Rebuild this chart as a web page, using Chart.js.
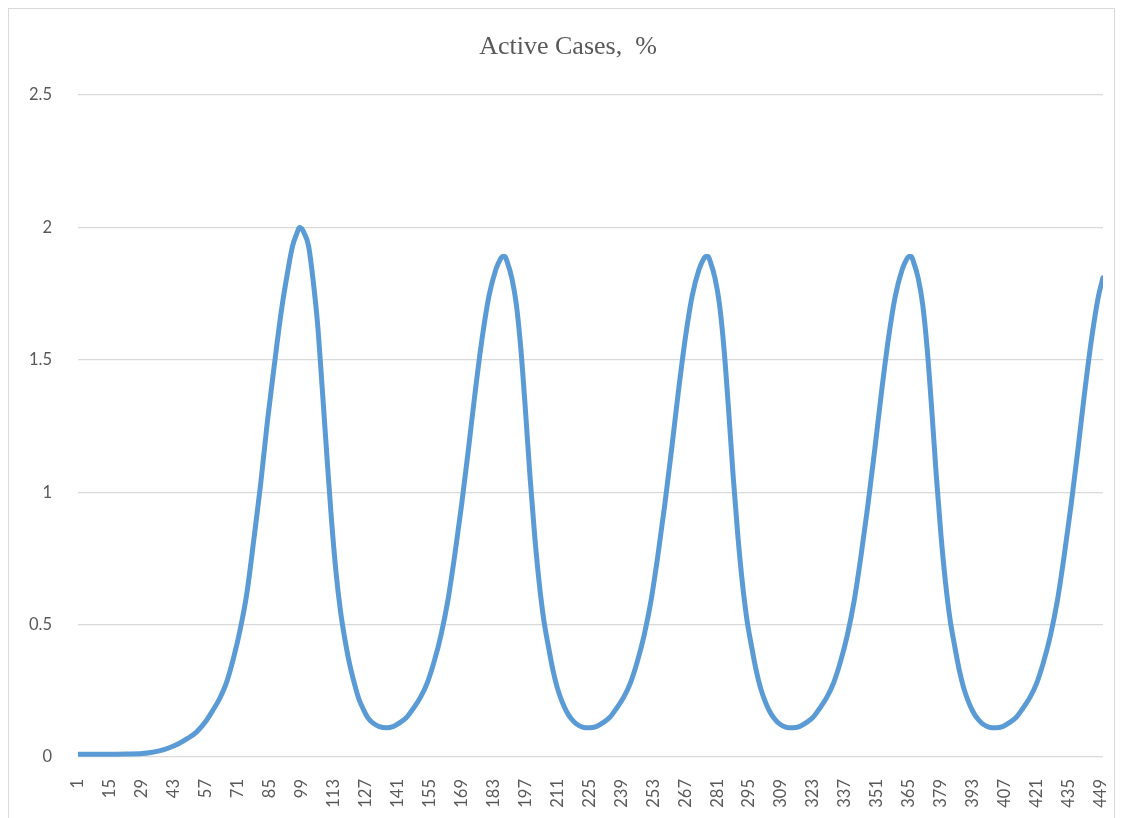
<!DOCTYPE html>
<html>
<head>
<meta charset="utf-8">
<title>Active Cases, %</title>
<script src="https://cdn.jsdelivr.net/npm/chart.js@4.4.1/dist/chart.umd.min.js"></script>
<style>
    html, body { margin: 0; padding: 0; background: #fff; overflow: hidden; }
    #wrap { position: relative; width: 1123px; height: 818px; }
    #frame { position: absolute; left: 8px; top: 8px; width: 1107px; height: 840px; border: 1px solid #d9d9d9; box-sizing: border-box; }
    #activeChart { position: absolute; left: 0; top: 0; }
</style>
</head>
<body>
<div id="wrap">
    <div id="frame"></div>
    <canvas id="activeChart" width="1123" height="818"></canvas>
</div>
<script>
// 経過日数（グラフから読み取った点）
const days = [
    1, 8, 15, 22, 29, 33, 37, 41, 45, 49, 53, 57, 60, 63, 66, 69, 72, 75, 78, 81, 84, 87, 90, 93, 95, 97, 98, 99, 100,
    102, 104, 106, 108, 110, 112, 114, 116, 118, 120, 122, 124, 126, 128, 130, 133, 136,
    139, 142, 145, 148, 151, 154, 157, 160, 163, 166, 169, 172, 175, 178, 181, 184, 186, 187, 188, 189,
    191, 193, 195, 197, 199, 201, 203, 205, 207, 209, 211, 213, 215, 217, 219, 222, 225,
    228, 231, 234, 237, 240, 243, 246, 249, 252, 255, 258, 261, 264, 267, 270, 273, 275, 276, 277, 278,
    280, 282, 284, 286, 288, 290, 292, 294, 296, 298, 300, 302, 304, 306, 308, 311, 314,
    317, 320, 323, 326, 329, 332, 335, 338, 341, 344, 347, 350, 353, 356, 359, 362, 364, 365, 366, 367,
    369, 371, 373, 375, 377, 379, 381, 383, 385, 387, 389, 391, 393, 395, 397, 400, 403,
    406, 409, 412, 415, 418, 421, 424, 427, 430, 433, 436, 439, 442, 445, 448, 450
];

// アクティブ患者 (%)
const activeCases = [
    0.01, 0.01, 0.01, 0.011, 0.013, 0.017, 0.024, 0.035, 0.05, 0.07, 0.095, 0.135, 0.175, 0.22, 0.28, 0.37, 0.48, 0.62, 0.82, 1.03, 1.27, 1.48, 1.68, 1.84, 1.93, 1.98, 2.0, 1.995, 1.98,
    1.93, 1.80, 1.63, 1.39, 1.14, 0.90, 0.70, 0.55, 0.44, 0.35, 0.28, 0.22, 0.18, 0.148, 0.13, 0.115, 0.11,
    0.115, 0.13, 0.15, 0.185, 0.225, 0.28, 0.36, 0.46, 0.59, 0.76, 0.95, 1.16, 1.38, 1.58, 1.74, 1.84, 1.88, 1.89, 1.89, 1.87,
    1.81, 1.71, 1.54, 1.31, 1.06, 0.84, 0.66, 0.52, 0.42, 0.33, 0.26, 0.21, 0.172, 0.145, 0.127, 0.113, 0.11,
    0.115, 0.13, 0.15, 0.185, 0.225, 0.28, 0.36, 0.46, 0.59, 0.76, 0.95, 1.16, 1.38, 1.58, 1.74, 1.84, 1.88, 1.89, 1.89, 1.87,
    1.81, 1.71, 1.54, 1.31, 1.06, 0.84, 0.66, 0.52, 0.42, 0.33, 0.26, 0.21, 0.172, 0.145, 0.127, 0.113, 0.11,
    0.115, 0.13, 0.15, 0.185, 0.225, 0.28, 0.36, 0.46, 0.59, 0.76, 0.95, 1.16, 1.38, 1.58, 1.74, 1.84, 1.88, 1.89, 1.89, 1.87,
    1.81, 1.71, 1.54, 1.31, 1.06, 0.84, 0.66, 0.52, 0.42, 0.33, 0.26, 0.21, 0.172, 0.145, 0.127, 0.113, 0.11,
    0.115, 0.13, 0.15, 0.185, 0.225, 0.28, 0.36, 0.46, 0.59, 0.76, 0.95, 1.16, 1.38, 1.58, 1.74, 1.81
];

// x軸の目盛り（14日ごと）
const dayTicks = [1, 15, 29, 43, 57, 71, 85, 99, 113, 127, 141, 155, 169, 183, 197, 211, 225,
    239, 253, 267, 281, 295, 309, 323, 337, 351, 365, 379, 393, 407, 421, 435, 449];

const titleText = 'Active Cases,  %';

const points = days.map((d, i) => ({ x: d, y: activeCases[i] }));

const tickFont = { family: 'Lato, "Noto Sans", sans-serif', size: 16.5 };

// タイトルはプロット中央より少し右にあるので自前で描く
const titlePlugin = {
    id: 'excelTitle',
    afterDraw(chart) {
        const c = chart.ctx;
        c.save();
        c.font = '26px "Liberation Serif", "Times New Roman", serif';
        c.fillStyle = '#595959';
        c.textAlign = 'center';
        c.textBaseline = 'middle';
        c.fillText(titleText, 568, 47);
        c.restore();
    }
};

let ctx = document.getElementById('activeChart').getContext('2d');
let chart = new Chart(ctx, {
    type: 'line',
    data: {
        datasets: [{
            label: titleText,
            data: points,
            borderColor: '#5b9bd5',
            borderWidth: 5,
            borderCapStyle: 'round',
            borderJoinStyle: 'round',
            pointRadius: 0,
            fill: false,
            cubicInterpolationMode: 'monotone'
        }]
    },
    options: {
        responsive: false,
        animation: false,
        devicePixelRatio: 1,
        layout: { padding: { left: 0, right: 20, top: 95, bottom: 0 } },
        plugins: {
            legend: { display: false },
            tooltip: { enabled: false },
            title: { display: false }
        },
        scales: {
            x: {
                type: 'linear',
                min: 1,
                max: 450,
                grid: { display: false },
                border: { display: false },
                ticks: {
                    autoSkip: false,
                    maxRotation: 90,
                    minRotation: 90,
                    padding: 14,
                    color: '#595959',
                    font: tickFont,
                    callback: (v) => String(v)
                },
                afterBuildTicks: (scale) => {
                    scale.ticks = dayTicks.map(v => ({ value: v }));
                },
                afterFit: (scale) => {
                    scale.height = 61;
                    scale.paddingLeft = 0;
                    scale.paddingRight = 0;
                }
            },
            y: {
                min: 0,
                max: 2.5,
                ticks: {
                    stepSize: 0.5,
                    padding: 26,
                    color: '#595959',
                    font: tickFont,
                    callback: (v) => String(v)
                },
                grid: { color: '#d9d9d9', lineWidth: 1.3, drawTicks: false },
                border: { display: false },
                afterFit: (scale) => {
                    scale.width = 78;
                    scale.paddingTop = 0;
                    scale.paddingBottom = 0;
                }
            }
        }
    },
    plugins: [titlePlugin]
});
</script>
</body>
</html>
